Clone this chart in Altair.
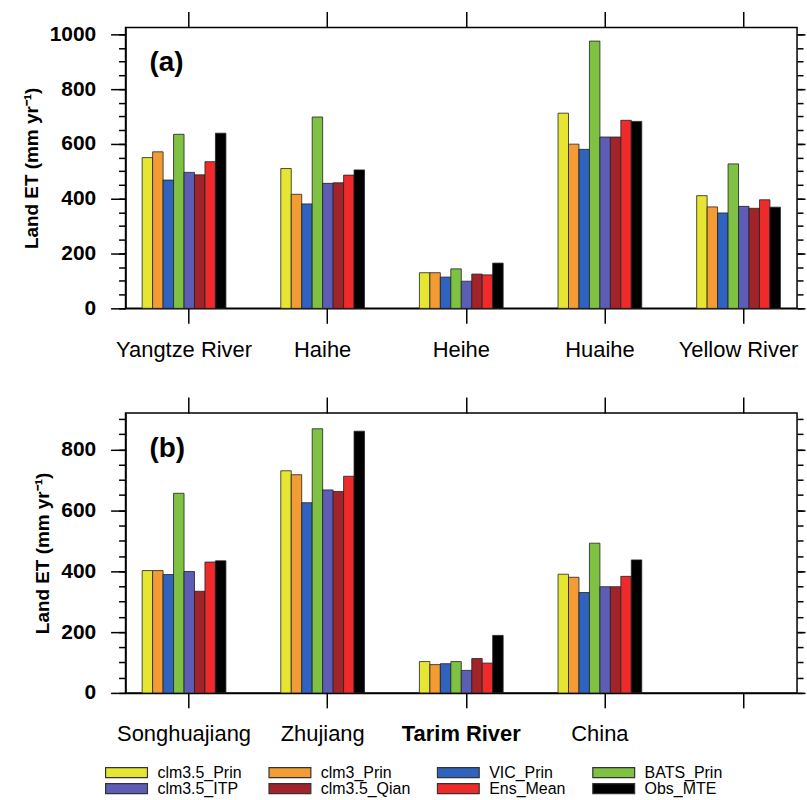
import altair as alt
import pandas as pd

models = ["clm3.5_Prin", "clm3_Prin", "VIC_Prin", "BATS_Prin",
          "clm3.5_ITP", "clm3.5_Qian", "Ens_Mean", "Obs_MTE"]
colors = ["#e6e632", "#f29c33", "#2f63bf", "#7fc143",
          "#5e5db6", "#a1242b", "#ee2a2a", "#000000"]

# Panel (a)
regions_a = ["Yangtze River", "Haihe", "Heihe", "Huaihe", "Yellow River"]
yangtze = [550, 571, 468, 635, 496, 487, 535, 639]
haihe = [510, 416, 381, 698, 456, 458, 486, 505]
heihe = [130, 130, 114, 144, 99, 125, 122, 165]
huaihe = [712, 599, 580, 975, 625, 625, 686, 682]
yellow = [411, 370, 348, 527, 372, 365, 396, 369]
values_a = [yangtze, haihe, heihe, huaihe, yellow]

# Panel (b)  (last slot is an empty category)
regions_b = ["Songhuajiang", "Zhujiang", "Tarim River", "China", " "]
songhua = [402, 402, 389, 656, 399, 334, 430, 434]
zhujiang = [730, 717, 625, 868, 667, 662, 712, 860]
tarim = [103, 93, 96, 103, 74, 113, 98, 189]
china = [390, 380, 330, 492, 349, 349, 383, 437]
values_b = [songhua, zhujiang, tarim, china]

major_a = [0, 200, 400, 600, 800, 1000]
minor_a = list(range(0, 1001, 50))
major_b = [0, 200, 400, 600, 800]
minor_b = list(range(0, 901, 50))

YTITLE = "Land ET (mm yr\u207b\u00b9)"
FONT = "Liberation Sans"


def long_df(regions, vals):
    rows = []
    for r, vs in zip(regions, vals):
        for m, v in zip(models, vs):
            rows.append({"region": r, "model": m, "value": v})
    return pd.DataFrame(rows)


def panel(regions, vals, ymax, major, minor, H, tag, legend):
    df = long_df(regions, vals)
    xscale = alt.Scale(domain=regions, paddingInner=0.396, paddingOuter=0.12)
    yscale = alt.Scale(domain=[0, ymax], nice=False, zero=True)
    base = alt.Chart(df)
    color = alt.Color("model:N", scale=alt.Scale(domain=models, range=colors),
                      legend=legend)
    bars = base.mark_bar(stroke="#222222", strokeWidth=0.8).encode(
        x=alt.X("region:N", scale=xscale, title=None,
                axis=alt.Axis(orient="bottom", labelAngle=0, tickSize=15,
                              labelPadding=16, labelFontSize=22,
                              labelFont=FONT, bandPosition=0.56,
                              labelFontWeight=alt.ExprRef(
                                  "datum.value === 'Tarim River' ? 'bold' : 'normal'"))),
        xOffset=alt.XOffset("model:N", sort=models,
                            scale=alt.Scale(paddingInner=0, paddingOuter=0)),
        y=alt.Y("value:Q", scale=yscale, title=YTITLE,
                axis=alt.Axis(orient="left", values=major, tickSize=15, format="d",
                              labelPadding=15, labelFontSize=21,
                              labelFontWeight="bold", labelFont=FONT,
                              titleFont=FONT, titleFontSize=19,
                              titleFontWeight="bold", titlePadding=8)),
        color=color,
    )
    top = base.mark_point(opacity=0).encode(
        x=alt.X("region:N", scale=xscale, title=None,
                axis=alt.Axis(orient="top", labels=False, tickSize=16,
                              domain=False, bandPosition=0.56)))
    left_minor = base.mark_point(opacity=0).encode(
        y=alt.Y("value:Q", scale=yscale, title=None,
                axis=alt.Axis(orient="left", values=minor, tickSize=7,
                              labels=False, domain=False)))
    right_major = base.mark_point(opacity=0).encode(
        y=alt.Y("value:Q", scale=yscale, title=None,
                axis=alt.Axis(orient="right", values=major, tickSize=8,
                              labels=False, domain=False)))
    right_minor = base.mark_point(opacity=0).encode(
        y=alt.Y("value:Q", scale=yscale, title=None,
                axis=alt.Axis(orient="right", values=minor, tickSize=6,
                              labels=False, domain=False)))
    txt = alt.Chart(pd.DataFrame({"t": [tag]})).mark_text(
        font=FONT, fontSize=28, fontWeight="bold", align="left",
        baseline="middle", color="black").encode(
        text="t:N", x=alt.value(24), y=alt.value(36))
    return alt.layer(bars, top, left_minor, right_major, right_minor, txt).resolve_axis(
        x="independent", y="independent").properties(width=674, height=H)


legend = alt.Legend(title=None, orient="none", legendX=-21, legendY=740,
                    direction="horizontal",
                    columns=4, gridAlign="each", columnPadding=26, rowPadding=0,
                    clipHeight=16,
                    symbolType="M-1,-0.24L1,-0.24L1,0.24L-1,0.24Z", symbolSize=1764,
                    symbolStrokeColor="#333333", symbolStrokeWidth=1.2,
                    labelFont=FONT, labelFontSize=16, labelOffset=9,
                    labelLimit=300, symbolOpacity=1)

pa = panel(regions_a, values_a, 1025, major_a, minor_a, 282, "(a)", legend)
pb = panel(regions_b, values_b, 920, major_b, minor_b, 281, "(b)", legend)

chart = alt.vconcat(pa, pb, spacing=34).resolve_scale(
    x="independent", y="independent", color="shared"
).properties(
    padding={"left": 21, "top": 8, "right": 0, "bottom": 0},
    background="white",
).configure_view(
    stroke="black", strokeWidth=1.5
).configure_axis(
    domainColor="black", tickColor="black", tickWidth=1.5, domainWidth=1.5,
    labelColor="black", titleColor="black", grid=False
)

chart.save("out.html", embed_options={"renderer": "svg", "actions": False})
